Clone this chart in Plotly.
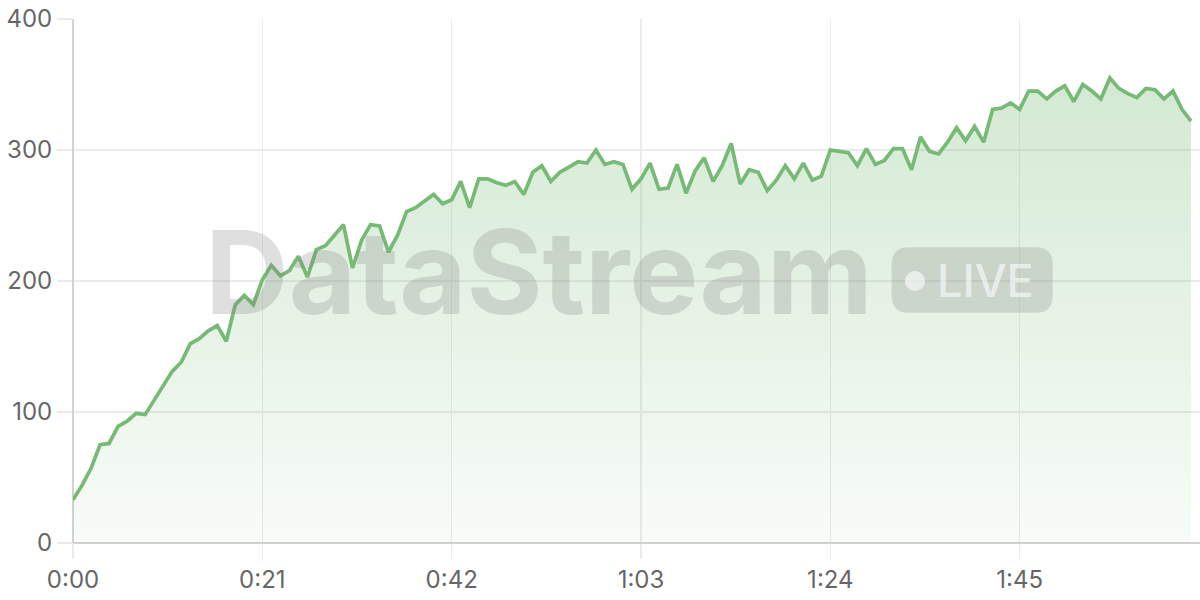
import plotly.graph_objects as go

# ---- data ----
values = [33, 44, 57, 75, 76, 89, 93, 99, 98, 109,
          121, 131, 138, 152, 156, 162, 166, 154, 182, 189,
          182, 201, 212, 204, 208, 219, 203, 224, 227, 235,
          243, 210, 231, 243, 242, 222, 235, 253, 256, 261,
          266, 259, 262, 276, 256, 278, 278, 275, 273, 276,
          266, 283, 288, 276, 283, 287, 291, 290, 300, 289,
          291, 289, 270, 278, 290, 270, 271, 289, 267, 284,
          294, 276, 288, 305, 274, 285, 283, 269, 277, 288,
          278, 290, 277, 280, 300, 299, 298, 288, 301, 289,
          292, 301, 301, 285, 310, 299, 297, 306, 317, 307,
          318, 306, 331, 332, 336, 331, 345, 345, 339, 345,
          349, 337, 350, 345, 339, 355, 347, 343, 340, 347,
          346, 339, 345, 331, 322]
seconds = list(range(len(values)))
x_tick_values = [0, 21, 42, 63, 84, 105]
x_tick_labels = ["0:00", "0:21", "0:42", "1:03", "1:24", "1:45"]
y_tick_values = [0, 100, 200, 300, 400]
watermark_text = "DataStream"
badge_text = "LIVE"

GREEN = "rgb(118,186,118)"
GRID = "#ebebeb"
AXIS = "#d2d2d2"
FONT = "Inter"

fig = go.Figure()
fig.add_trace(go.Scatter(
    x=seconds, y=values, mode="lines",
    line=dict(color=GREEN, width=3.7),
    fill="tozeroy",
    fillgradient=dict(type="vertical",
                      colorscale=[[0, "rgba(118,186,118,0.05)"],
                                  [1, "rgba(118,186,118,0.32)"]]),
    hoverinfo="skip", showlegend=False,
))

# plot area in px: x 73..1200, y 19..543
W, H = 1127.0, 524.0
def px(xp):
    return (xp - 73) / W
def py(yp):
    return (543 - yp) / H

# rounded badge
bx0, bx1, by0, by1, r = 891.7, 1052.7, 247.3, 312.7, 17
def pt(x, y):
    return f"{px(x):.5f},{py(y):.5f}"
path = ("M " + pt(bx0 + r, by0) + " L " + pt(bx1 - r, by0) +
        " Q " + pt(bx1, by0) + " " + pt(bx1, by0 + r) +
        " L " + pt(bx1, by1 - r) +
        " Q " + pt(bx1, by1) + " " + pt(bx1 - r, by1) +
        " L " + pt(bx0 + r, by1) +
        " Q " + pt(bx0, by1) + " " + pt(bx0, by1 - r) +
        " L " + pt(bx0, by0 + r) +
        " Q " + pt(bx0, by0) + " " + pt(bx0 + r, by0) + " Z")
fig.add_shape(type="path", path=path, xref="paper", yref="paper",
              fillcolor="rgba(128,128,128,0.25)", line=dict(width=0), layer="above")
fig.add_shape(type="circle", xref="paper", yref="paper",
              x0=px(905), x1=px(925), y0=py(291), y1=py(271),
              fillcolor="rgba(255,255,255,0.6)", line=dict(width=0), layer="above")

fig.add_annotation(text=watermark_text, xref="paper", yref="paper",
                   x=px(539), y=py(272), xanchor="center", yanchor="middle",
                   showarrow=False,
                   font=dict(family=FONT, size=116, color="rgba(128,128,128,0.25)", weight=700))
fig.add_annotation(text=badge_text, xref="paper", yref="paper",
                   x=px(985.5), y=py(280), xanchor="center", yanchor="middle",
                   showarrow=False,
                   font=dict(family=FONT, size=45, color="rgba(255,255,255,0.6)", weight=500))

fig.update_layout(
    width=1200, height=600,
    margin=dict(l=73, r=0, t=19, b=57, autoexpand=False),
    plot_bgcolor="white", paper_bgcolor="white",
    font=dict(family=FONT, size=24, color="#666666"),
    xaxis=dict(range=[0, 125], tickmode="array", tickvals=x_tick_values,
               ticktext=x_tick_labels, showgrid=True, gridcolor=GRID, gridwidth=1.5,
               zeroline=True, zerolinecolor=AXIS, zerolinewidth=1.5,
               ticks="outside", ticklen=15, tickcolor=GRID, tickwidth=1.5,
               showline=False, fixedrange=True),
    yaxis=dict(range=[0, 400], tickmode="array", tickvals=y_tick_values,
               showgrid=True, gridcolor=GRID, gridwidth=1.5,
               zeroline=True, zerolinecolor=AXIS, zerolinewidth=1.5,
               ticks="outside", ticklen=15, tickcolor=GRID, tickwidth=1.5,
               showline=False, fixedrange=True),
)

fig.write_html("out.html", config={"displayModeBar": False, "staticPlot": True},
               post_script="document.body.style.margin='0';document.body.style.overflow='hidden';")
